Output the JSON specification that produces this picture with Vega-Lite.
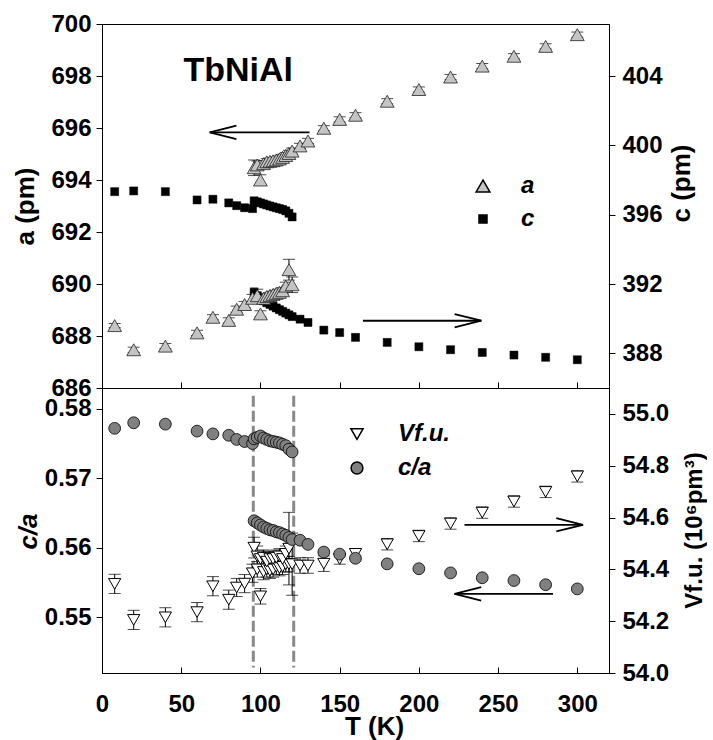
{
"$schema":"https://vega.github.io/schema/vega-lite/v6.json",
"padding":{"left":11,"top":11,"right":0,"bottom":0},
"spacing":0,
"bounds":"flush",
"resolve":{"scale":{"shape":"independent","fill":"independent","size":"independent"}},
"datasets":{
"aData":[
{"T":8,"a":688.40,"err":0.08,"series":"a"},{"T":20,"a":687.47,"err":0.1,"series":"a"},{"T":40,"a":687.61,"err":0.1,"series":"a"},{"T":60,"a":688.12,"err":0.1,"series":"a"},{"T":70,"a":688.72,"err":0.1,"series":"a"},{"T":80,"a":688.60,"err":0.1,"series":"a"},{"T":85,"a":689.03,"err":0.12,"series":"a"},{"T":90,"a":689.21,"err":0.12,"series":"a"},{"T":95,"a":689.45,"err":0.15,"series":"a"},{"T":98,"a":689.55,"err":0.25,"series":"a"},{"T":100,"a":688.85,"err":0.12,"series":"a"},{"T":102,"a":689.45,"err":0.12,"series":"a"},{"T":104,"a":689.52,"err":0.12,"series":"a"},{"T":106,"a":689.56,"err":0.12,"series":"a"},{"T":108,"a":689.60,"err":0.12,"series":"a"},{"T":110,"a":689.64,"err":0.12,"series":"a"},{"T":112,"a":689.68,"err":0.12,"series":"a"},{"T":114,"a":689.74,"err":0.12,"series":"a"},{"T":116,"a":689.92,"err":0.15,"series":"a"},{"T":118,"a":690.55,"err":0.4,"series":"a"},{"T":120,"a":689.97,"err":0.3,"series":"a"},
{"T":96,"a":694.47,"err":0.3,"series":"a"},{"T":98,"a":694.58,"err":0.15,"series":"a"},{"T":100,"a":694.00,"err":0.2,"series":"a"},{"T":102,"a":694.63,"err":0.12,"series":"a"},{"T":104,"a":694.70,"err":0.12,"series":"a"},{"T":106,"a":694.72,"err":0.12,"series":"a"},{"T":108,"a":694.74,"err":0.12,"series":"a"},{"T":110,"a":694.77,"err":0.12,"series":"a"},{"T":112,"a":694.81,"err":0.12,"series":"a"},{"T":114,"a":694.87,"err":0.12,"series":"a"},{"T":116,"a":694.94,"err":0.12,"series":"a"},{"T":118,"a":695.02,"err":0.12,"series":"a"},{"T":120,"a":695.11,"err":0.12,"series":"a"},{"T":125,"a":695.31,"err":0.1,"series":"a"},{"T":130,"a":695.50,"err":0.1,"series":"a"},{"T":140,"a":695.99,"err":0.1,"series":"a"},{"T":150,"a":696.33,"err":0.1,"series":"a"},{"T":160,"a":696.49,"err":0.1,"series":"a"},{"T":180,"a":697.03,"err":0.1,"series":"a"},{"T":200,"a":697.48,"err":0.1,"series":"a"},{"T":220,"a":697.96,"err":0.1,"series":"a"},{"T":240,"a":698.38,"err":0.1,"series":"a"},{"T":260,"a":698.76,"err":0.1,"series":"a"},{"T":280,"a":699.14,"err":0.1,"series":"a"},{"T":300,"a":699.59,"err":0.1,"series":"a"}
],
"cData":[
{"T":8,"c":397.33,"err":0.18,"series":"c"},{"T":20,"c":397.37,"err":0.18,"series":"c"},{"T":40,"c":397.33,"err":0.18,"series":"c"},{"T":60,"c":396.85,"err":0.18,"series":"c"},{"T":70,"c":396.89,"err":0.18,"series":"c"},{"T":80,"c":396.68,"err":0.18,"series":"c"},{"T":85,"c":396.52,"err":0.18,"series":"c"},{"T":90,"c":396.40,"err":0.18,"series":"c"},{"T":95,"c":396.35,"err":0.18,"series":"c"},{"T":96,"c":396.80,"err":0.18,"series":"c"},{"T":98,"c":396.74,"err":0.18,"series":"c"},{"T":100,"c":396.68,"err":0.18,"series":"c"},{"T":102,"c":396.62,"err":0.18,"series":"c"},{"T":104,"c":396.56,"err":0.18,"series":"c"},{"T":106,"c":396.50,"err":0.18,"series":"c"},{"T":108,"c":396.45,"err":0.18,"series":"c"},{"T":110,"c":396.40,"err":0.18,"series":"c"},{"T":112,"c":396.35,"err":0.18,"series":"c"},{"T":114,"c":396.30,"err":0.18,"series":"c"},{"T":116,"c":396.22,"err":0.18,"series":"c"},{"T":118,"c":396.08,"err":0.18,"series":"c"},{"T":120,"c":395.87,"err":0.2,"series":"c"},
{"T":96,"c":391.52,"err":0.25,"series":"c"},{"T":98,"c":391.33,"err":0.18,"series":"c"},{"T":100,"c":391.17,"err":0.18,"series":"c"},{"T":102,"c":391.03,"err":0.18,"series":"c"},{"T":104,"c":390.92,"err":0.18,"series":"c"},{"T":106,"c":390.82,"err":0.18,"series":"c"},{"T":108,"c":390.72,"err":0.18,"series":"c"},{"T":110,"c":390.62,"err":0.18,"series":"c"},{"T":112,"c":390.52,"err":0.18,"series":"c"},{"T":114,"c":390.42,"err":0.18,"series":"c"},{"T":116,"c":390.32,"err":0.18,"series":"c"},{"T":118,"c":390.22,"err":0.18,"series":"c"},{"T":120,"c":390.12,"err":0.18,"series":"c"},{"T":125,"c":389.97,"err":0.18,"series":"c"},{"T":130,"c":389.78,"err":0.18,"series":"c"},{"T":140,"c":389.34,"err":0.18,"series":"c"},{"T":150,"c":389.20,"err":0.18,"series":"c"},{"T":160,"c":388.92,"err":0.18,"series":"c"},{"T":180,"c":388.63,"err":0.18,"series":"c"},{"T":200,"c":388.38,"err":0.18,"series":"c"},{"T":220,"c":388.21,"err":0.18,"series":"c"},{"T":240,"c":388.05,"err":0.18,"series":"c"},{"T":260,"c":387.90,"err":0.18,"series":"c"},{"T":280,"c":387.77,"err":0.18,"series":"c"},{"T":300,"c":387.63,"err":0.18,"series":"c"}
],
"caData":[
{"T":8,"ca":0.5772,"series":"c/a"},{"T":20,"ca":0.5780,"series":"c/a"},{"T":40,"ca":0.5778,"series":"c/a"},{"T":60,"ca":0.5768,"series":"c/a"},{"T":70,"ca":0.5764,"series":"c/a"},{"T":80,"ca":0.5762,"series":"c/a"},{"T":85,"ca":0.5756,"series":"c/a"},{"T":90,"ca":0.5753,"series":"c/a"},{"T":95,"ca":0.5750,"series":"c/a"},{"T":96,"ca":0.5757,"series":"c/a"},{"T":98,"ca":0.5759,"series":"c/a"},{"T":100,"ca":0.5761,"series":"c/a"},{"T":102,"ca":0.5758,"series":"c/a"},{"T":104,"ca":0.5756,"series":"c/a"},{"T":106,"ca":0.5754,"series":"c/a"},{"T":108,"ca":0.5753,"series":"c/a"},{"T":110,"ca":0.5752,"series":"c/a"},{"T":112,"ca":0.5751,"series":"c/a"},{"T":114,"ca":0.5749,"series":"c/a"},{"T":116,"ca":0.5747,"series":"c/a"},{"T":118,"ca":0.5742,"series":"c/a"},{"T":120,"ca":0.5738,"series":"c/a"},
{"T":96,"ca":0.5639,"series":"c/a"},{"T":98,"ca":0.5636,"series":"c/a"},{"T":100,"ca":0.5633,"series":"c/a"},{"T":102,"ca":0.5630,"series":"c/a"},{"T":104,"ca":0.5628,"series":"c/a"},{"T":106,"ca":0.5626,"series":"c/a"},{"T":108,"ca":0.5625,"series":"c/a"},{"T":110,"ca":0.5623,"series":"c/a"},{"T":112,"ca":0.5622,"series":"c/a"},{"T":114,"ca":0.5620,"series":"c/a"},{"T":116,"ca":0.5618,"series":"c/a"},{"T":118,"ca":0.5615,"series":"c/a"},{"T":120,"ca":0.5612,"series":"c/a"},{"T":125,"ca":0.5611,"series":"c/a"},{"T":130,"ca":0.5605,"series":"c/a"},{"T":140,"ca":0.5594,"series":"c/a"},{"T":150,"ca":0.5591,"series":"c/a"},{"T":160,"ca":0.5585,"series":"c/a"},{"T":180,"ca":0.5577,"series":"c/a"},{"T":200,"ca":0.5570,"series":"c/a"},{"T":220,"ca":0.5564,"series":"c/a"},{"T":240,"ca":0.5557,"series":"c/a"},{"T":260,"ca":0.5553,"series":"c/a"},{"T":280,"ca":0.5547,"series":"c/a"},{"T":300,"ca":0.5541,"series":"c/a"}
],
"vData":[
{"T":8,"V":54.344,"err":0.037,"series":"Vf.u."},{"T":20,"V":54.205,"err":0.037,"series":"Vf.u."},{"T":40,"V":54.215,"err":0.037,"series":"Vf.u."},{"T":60,"V":54.235,"err":0.037,"series":"Vf.u."},{"T":70,"V":54.335,"err":0.037,"series":"Vf.u."},{"T":80,"V":54.283,"err":0.037,"series":"Vf.u."},{"T":85,"V":54.33,"err":0.035,"series":"Vf.u."},{"T":90,"V":54.345,"err":0.035,"series":"Vf.u."},{"T":95,"V":54.385,"err":0.035,"series":"Vf.u."},{"T":98,"V":54.40,"err":0.03,"series":"Vf.u."},{"T":100,"V":54.296,"err":0.03,"series":"Vf.u."},{"T":102,"V":54.39,"err":0.03,"series":"Vf.u."},{"T":104,"V":54.40,"err":0.03,"series":"Vf.u."},{"T":106,"V":54.395,"err":0.03,"series":"Vf.u."},{"T":108,"V":54.40,"err":0.03,"series":"Vf.u."},{"T":110,"V":54.41,"err":0.03,"series":"Vf.u."},{"T":112,"V":54.405,"err":0.03,"series":"Vf.u."},{"T":114,"V":54.41,"err":0.03,"series":"Vf.u."},{"T":116,"V":54.42,"err":0.03,"series":"Vf.u."},{"T":118,"V":54.42,"err":0.03,"series":"Vf.u."},{"T":120,"V":54.42,"err":0.12,"series":"Vf.u."},
{"T":96,"V":54.484,"err":0.04,"series":"Vf.u."},{"T":98,"V":54.45,"err":0.04,"series":"Vf.u."},{"T":100,"V":54.44,"err":0.03,"series":"Vf.u."},{"T":102,"V":54.445,"err":0.03,"series":"Vf.u."},{"T":104,"V":54.43,"err":0.03,"series":"Vf.u."},{"T":106,"V":54.44,"err":0.03,"series":"Vf.u."},{"T":108,"V":54.44,"err":0.03,"series":"Vf.u."},{"T":110,"V":54.445,"err":0.03,"series":"Vf.u."},{"T":112,"V":54.45,"err":0.03,"series":"Vf.u."},{"T":114,"V":54.44,"err":0.03,"series":"Vf.u."},{"T":116,"V":54.46,"err":0.03,"series":"Vf.u."},{"T":118,"V":54.48,"err":0.14,"series":"Vf.u."},{"T":125,"V":54.415,"err":0.03,"series":"Vf.u."},{"T":130,"V":54.415,"err":0.03,"series":"Vf.u."},{"T":140,"V":54.422,"err":0.03,"series":"Vf.u."},{"T":150,"V":54.44,"err":0.02,"series":"Vf.u."},{"T":160,"V":54.46,"err":0.02,"series":"Vf.u."},{"T":180,"V":54.497,"err":0.022,"series":"Vf.u."},{"T":200,"V":54.529,"err":0.022,"series":"Vf.u."},{"T":220,"V":54.577,"err":0.022,"series":"Vf.u."},{"T":240,"V":54.619,"err":0.022,"series":"Vf.u."},{"T":260,"V":54.662,"err":0.022,"series":"Vf.u."},{"T":280,"V":54.699,"err":0.022,"series":"Vf.u."},{"T":300,"V":54.759,"err":0.022,"series":"Vf.u."}
],
"arrowTop1":[{"T1":131,"T2":68,"a":695.83}],
"arrowTop2":[{"T1":164.7,"T2":239.4,"c":389.88}],
"arrowBot1":[{"T1":284.7,"T2":222.5,"ca":0.55338}],
"arrowBot2":[{"T1":228.8,"T2":303.6,"V":54.572}],
"dashes":[{"T":95.5},{"T":121}],
"label":[{"T":86,"a":698.2,"text":"TbNiAl"}]
},
"vconcat":[
{
"width":507,"height":364,
"resolve":{"scale":{"y":"independent"}},
"layer":[
{"layer":[
{"data":{"name":"cData"},"mark":{"type":"errorbar","ticks":true,"size":8,"thickness":1,"color":"black"},
 "encoding":{"x":{"field":"T","type":"quantitative","scale":{"domain":[0,320],"nice":false,"zero":false},"axis":{"orient":"bottom","values":[0,50,100,150,200,250,300],"labels":false,"title":null,"tickSize":-6}},
 "y":{"field":"c","type":"quantitative","scale":{"domain":[386,407],"nice":false,"zero":false},"axis":{"orient":"right","values":[388,392,396,400,404],"format":"d","title":"c (pm)","titleX":72,"titleY":159,"titleAngle":270,"titleAlign":"center","titleBaseline":"middle","labelPadding":7}},
 "yError":{"field":"err"}}},
{"data":{"name":"cData"},"mark":{"type":"point","filled":true,"stroke":"black","strokeWidth":0.5,"opacity":1},
 "encoding":{"x":{"field":"T","type":"quantitative","scale":{"domain":[0,320],"nice":false,"zero":false}},
 "y":{"field":"c","type":"quantitative","scale":{"domain":[386,407],"nice":false,"zero":false},"axis":{"orient":"right","values":[388,392,396,400,404],"format":"d","title":"c (pm)","titleX":72,"titleY":159,"titleAngle":270,"titleAlign":"center","titleBaseline":"middle","labelPadding":7}},
 "shape":{"field":"series","type":"nominal","scale":{"domain":["a","c"],"range":["triangle-up","square"]},"legend":{"orient":"none","legendX":369,"legendY":150,"title":null,"labelFontSize":24,"labelFontStyle":"italic","labelFontWeight":"bold","labelOffset":26,"rowPadding":9,"padding":0,"encode":{"symbols":{"update":{"stroke":{"value":"#222"},"strokeWidth":{"value":0.8}}}}}},
 "fill":{"field":"series","type":"nominal","scale":{"domain":["a","c"],"range":["#c4c4c4","#000000"]},"legend":{"orient":"none","legendX":369,"legendY":150,"title":null,"labelFontSize":24,"labelFontStyle":"italic","labelFontWeight":"bold","labelOffset":26,"rowPadding":9,"padding":0,"encode":{"symbols":{"update":{"stroke":{"value":"#222"},"strokeWidth":{"value":0.8}}}}}},
 "size":{"field":"series","type":"nominal","scale":{"type":"ordinal","domain":["a","c"],"range":[190,64]},"legend":{"orient":"none","legendX":369,"legendY":150,"title":null,"labelFontSize":24,"labelFontStyle":"italic","labelFontWeight":"bold","labelOffset":26,"rowPadding":9,"padding":0,"encode":{"symbols":{"update":{"stroke":{"value":"#222"},"strokeWidth":{"value":0.8}}}}}}}},
{"data":{"name":"arrowTop2"},"mark":{"type":"rule","color":"black","strokeWidth":1.8},
 "encoding":{"x":{"field":"T1","type":"quantitative","scale":{"domain":[0,320],"nice":false,"zero":false}},"x2":{"field":"T2"},"y":{"field":"c","type":"quantitative","scale":{"domain":[386,407],"nice":false,"zero":false}}}},
{"data":{"name":"arrowTop2"},"mark":{"type":"point","shape":"M -1 -0.25 L 0 0 L -1 0.25","size":2850,"filled":false,"stroke":"black","strokeWidth":1.8,"opacity":1},
 "encoding":{"x":{"field":"T2","type":"quantitative","scale":{"domain":[0,320],"nice":false,"zero":false}},"y":{"field":"c","type":"quantitative","scale":{"domain":[386,407],"nice":false,"zero":false}}}}
]},
{"layer":[
{"data":{"name":"aData"},"mark":{"type":"errorbar","ticks":true,"size":12,"thickness":1,"color":"black"},
 "encoding":{"x":{"field":"T","type":"quantitative","scale":{"domain":[0,320],"nice":false,"zero":false}},
 "y":{"field":"a","type":"quantitative","scale":{"domain":[686,700],"nice":false,"zero":false},"axis":{"orient":"left","values":[686,688,690,692,694,696,698,700],"format":"d","title":"a (pm)","titleX":-77,"titleY":182,"titleAngle":270,"titleAlign":"center","titleBaseline":"middle","labelPadding":5}},
 "yError":{"field":"err"}}},
{"data":{"name":"aData"},"mark":{"type":"point","filled":true,"stroke":"#222","strokeWidth":0.8,"opacity":1},
 "encoding":{"x":{"field":"T","type":"quantitative","scale":{"domain":[0,320],"nice":false,"zero":false}},
 "y":{"field":"a","type":"quantitative","scale":{"domain":[686,700],"nice":false,"zero":false},"axis":{"orient":"left","values":[686,688,690,692,694,696,698,700],"format":"d","title":"a (pm)","titleX":-77,"titleY":182,"titleAngle":270,"titleAlign":"center","titleBaseline":"middle","labelPadding":5}},
 "shape":{"field":"series","type":"nominal","scale":{"domain":["a","c"],"range":["triangle-up","square"]}},
 "fill":{"field":"series","type":"nominal","scale":{"domain":["a","c"],"range":["#c4c4c4","#000000"]}},
 "size":{"field":"series","type":"nominal","scale":{"type":"ordinal","domain":["a","c"],"range":[190,64]}}}},
{"data":{"name":"arrowTop1"},"mark":{"type":"rule","color":"black","strokeWidth":1.8},
 "encoding":{"x":{"field":"T1","type":"quantitative","scale":{"domain":[0,320],"nice":false,"zero":false}},"x2":{"field":"T2"},"y":{"field":"a","type":"quantitative","scale":{"domain":[686,700],"nice":false,"zero":false}}}},
{"data":{"name":"arrowTop1"},"mark":{"type":"point","shape":"M 1 -0.25 L 0 0 L 1 0.25","size":2850,"filled":false,"stroke":"black","strokeWidth":1.8,"opacity":1},
 "encoding":{"x":{"field":"T2","type":"quantitative","scale":{"domain":[0,320],"nice":false,"zero":false}},"y":{"field":"a","type":"quantitative","scale":{"domain":[686,700],"nice":false,"zero":false}}}},
{"data":{"name":"label"},"mark":{"type":"text","fontSize":34,"fontWeight":"bold","font":"Liberation Sans","align":"center","baseline":"middle","color":"black"},
 "encoding":{"x":{"field":"T","type":"quantitative","scale":{"domain":[0,320],"nice":false,"zero":false}},"y":{"field":"a","type":"quantitative","scale":{"domain":[686,700],"nice":false,"zero":false}},"text":{"field":"text"}}}
]}
]
},
{
"width":507,"height":285,
"resolve":{"scale":{"y":"independent"}},
"layer":[
{"data":{"name":"dashes"},"mark":{"type":"rule","color":"#8a8a8a","strokeWidth":3,"strokeDash":[11,4]},
 "encoding":{"x":{"field":"T","type":"quantitative","scale":{"domain":[0,320],"nice":false,"zero":false},"axis":{"orient":"bottom","values":[0,50,100,150,200,250,300],"format":"d","tickSize":-6,"labelPadding":25,"labelBaseline":"top","title":"T (K)","titleX":272,"titleY":53,"titleAlign":"center","titleBaseline":"middle"}},
 "y":{"datum":0.5819,"type":"quantitative","scale":{"domain":[0.542,0.583],"nice":false,"zero":false},"axis":null},"y2":{"datum":0.5428}}},
{"layer":[
{"data":{"name":"vData"},"mark":{"type":"errorbar","ticks":true,"size":12,"thickness":1,"color":"black"},
 "encoding":{"x":{"field":"T","type":"quantitative","scale":{"domain":[0,320],"nice":false,"zero":false}},
 "y":{"field":"V","type":"quantitative","scale":{"domain":[54.0,55.1],"nice":false,"zero":false},"axis":{"orient":"right","values":[54.0,54.2,54.4,54.6,54.8,55.0],"format":".1f","title":"Vf.u. (10⁶pm³)","titleFontSize":24,"titleX":85,"titleY":142,"titleAngle":270,"titleAlign":"center","titleBaseline":"middle","labelPadding":7}},
 "yError":{"field":"err"}}},
{"data":{"name":"vData"},"mark":{"type":"point","filled":true,"stroke":"black","strokeWidth":1,"opacity":1},
 "encoding":{"x":{"field":"T","type":"quantitative","scale":{"domain":[0,320],"nice":false,"zero":false}},
 "y":{"field":"V","type":"quantitative","scale":{"domain":[54.0,55.1],"nice":false,"zero":false},"axis":{"orient":"right","values":[54.0,54.2,54.4,54.6,54.8,55.0],"format":".1f","title":"Vf.u. (10⁶pm³)","titleFontSize":24,"titleX":85,"titleY":142,"titleAngle":270,"titleAlign":"center","titleBaseline":"middle","labelPadding":7}},
 "shape":{"field":"series","type":"nominal","scale":{"domain":["Vf.u.","c/a"],"range":["triangle-down","circle"]},"legend":{"orient":"none","legendX":243,"legendY":34,"title":null,"labelFontSize":24,"labelFontStyle":"italic","labelFontWeight":"bold","labelOffset":29,"rowPadding":10,"padding":0,"encode":{"symbols":{"update":{"stroke":{"value":"black"},"strokeWidth":{"value":1}}}}}},
 "fill":{"field":"series","type":"nominal","scale":{"domain":["Vf.u.","c/a"],"range":["#ffffff","#808080"]},"legend":{"orient":"none","legendX":243,"legendY":34,"title":null,"labelFontSize":24,"labelFontStyle":"italic","labelFontWeight":"bold","labelOffset":29,"rowPadding":10,"padding":0,"encode":{"symbols":{"update":{"stroke":{"value":"black"},"strokeWidth":{"value":1}}}}}},
 "size":{"field":"series","type":"nominal","scale":{"type":"ordinal","domain":["Vf.u.","c/a"],"range":[150,140]},"legend":{"orient":"none","legendX":243,"legendY":34,"title":null,"labelFontSize":24,"labelFontStyle":"italic","labelFontWeight":"bold","labelOffset":29,"rowPadding":10,"padding":0,"encode":{"symbols":{"update":{"stroke":{"value":"black"},"strokeWidth":{"value":1}}}}}}}},
{"data":{"name":"arrowBot2"},"mark":{"type":"rule","color":"black","strokeWidth":1.8},
 "encoding":{"x":{"field":"T1","type":"quantitative","scale":{"domain":[0,320],"nice":false,"zero":false}},"x2":{"field":"T2"},"y":{"field":"V","type":"quantitative","scale":{"domain":[54.0,55.1],"nice":false,"zero":false}}}},
{"data":{"name":"arrowBot2"},"mark":{"type":"point","shape":"M -1 -0.25 L 0 0 L -1 0.25","size":2850,"filled":false,"stroke":"black","strokeWidth":1.8,"opacity":1},
 "encoding":{"x":{"field":"T2","type":"quantitative","scale":{"domain":[0,320],"nice":false,"zero":false}},"y":{"field":"V","type":"quantitative","scale":{"domain":[54.0,55.1],"nice":false,"zero":false}}}}
]},
{"layer":[
{"data":{"name":"caData"},"mark":{"type":"point","filled":true,"stroke":"black","strokeWidth":0.8,"opacity":1},
 "encoding":{"x":{"field":"T","type":"quantitative","scale":{"domain":[0,320],"nice":false,"zero":false}},
 "y":{"field":"ca","type":"quantitative","scale":{"domain":[0.542,0.583],"nice":false,"zero":false},"axis":{"orient":"left","values":[0.55,0.56,0.57,0.58],"format":".2f","title":"c/a","titleFontStyle":"italic","titleX":-74,"titleY":143,"titleAngle":270,"titleAlign":"center","titleBaseline":"middle","labelPadding":5}},
 "shape":{"field":"series","type":"nominal","scale":{"domain":["Vf.u.","c/a"],"range":["triangle-down","circle"]}},
 "fill":{"field":"series","type":"nominal","scale":{"domain":["Vf.u.","c/a"],"range":["#ffffff","#808080"]}},
 "size":{"field":"series","type":"nominal","scale":{"type":"ordinal","domain":["Vf.u.","c/a"],"range":[150,140]}}}},
{"data":{"name":"arrowBot1"},"mark":{"type":"rule","color":"black","strokeWidth":1.8},
 "encoding":{"x":{"field":"T1","type":"quantitative","scale":{"domain":[0,320],"nice":false,"zero":false}},"x2":{"field":"T2"},"y":{"field":"ca","type":"quantitative","scale":{"domain":[0.542,0.583],"nice":false,"zero":false}}}},
{"data":{"name":"arrowBot1"},"mark":{"type":"point","shape":"M 1 -0.25 L 0 0 L 1 0.25","size":2850,"filled":false,"stroke":"black","strokeWidth":1.8,"opacity":1},
 "encoding":{"x":{"field":"T2","type":"quantitative","scale":{"domain":[0,320],"nice":false,"zero":false}},"y":{"field":"ca","type":"quantitative","scale":{"domain":[0.542,0.583],"nice":false,"zero":false}}}}
]}
]
}
],
"config":{
"font":"Liberation Sans",
"view":{"stroke":"black","strokeWidth":1},
"axis":{"labelFont":"Liberation Sans","labelFontSize":24,"labelFontWeight":"bold","labelColor":"black","titleFont":"Liberation Sans","titleFontSize":26,"titleFontWeight":"bold","titleColor":"black","domainColor":"black","domainWidth":1,"tickColor":"black","tickWidth":1,"tickSize":6,"grid":false,"labelFlush":false,"labelOverlap":false,"labelBound":false},
"legend":{"labelFont":"Liberation Sans","labelColor":"black"}
}
}
